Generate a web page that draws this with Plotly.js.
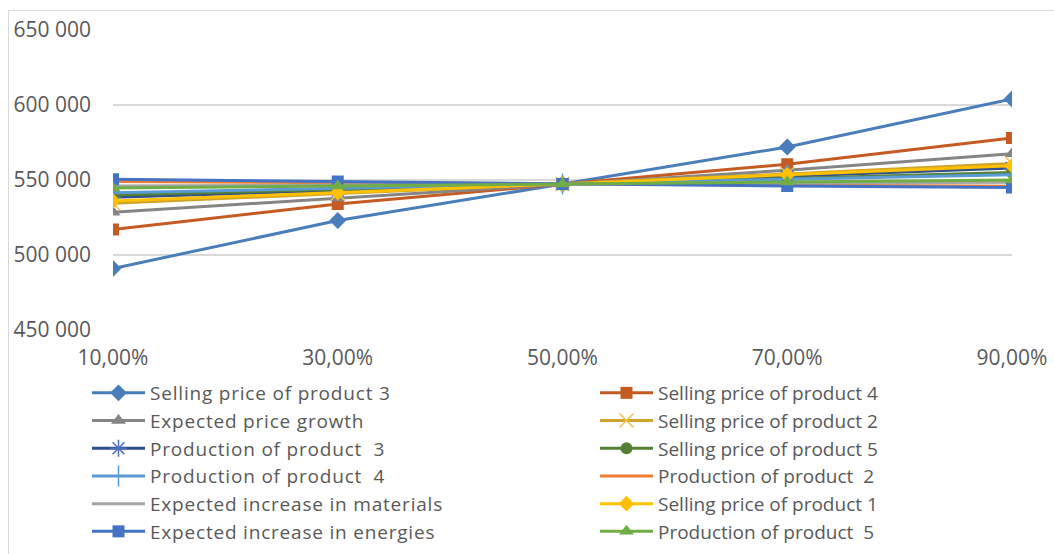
<!DOCTYPE html>
<html>
<head>
<meta charset="utf-8">
<script src="https://cdn.plot.ly/plotly-3.0.1.min.js"></script>
<style>
  html, body { margin: 0; padding: 0; background: #ffffff; overflow: hidden; width: 1054px; height: 554px; }
  #frame { position: absolute; left: 8px; top: 10px; width: 1100px; height: 600px; border: 1px solid #D9D9D9; box-sizing: border-box; z-index: 0; }
  #chart { position: absolute; left: 0; top: 0; width: 1054px; height: 554px; z-index: 1; }
  .legendtext { letter-spacing: 0.8px; }
</style>
</head>
<body>
<div id="frame"></div>
<div id="chart"></div>
<script>
// Categories (shares) on the x axis
const shares = [0.10, 0.30, 0.50, 0.70, 0.90];

// Series names (legend order, row-major in two columns)
const seriesNames = [
  "Selling price of product 3",
  "Selling price of product 4",
  "Expected price growth",
  "Selling price of product 2",
  "Production of product  3",
  "Selling price of product 5",
  "Production of product  4",
  "Production of product  2",
  "Expected increase in materials",
  "Selling price of product 1",
  "Expected increase in energies",
  "Production of product  5"
];

// Series values
const sellingPrice3   = [491000, 523000, 547300, 572000, 604000];
const sellingPrice4   = [517000, 534000, 547300, 560500, 578000];
const expPriceGrowth  = [528500, 538000, 547300, 556500, 567500];
const sellingPrice2   = [534500, 541000, 547300, 554000, 561000];
const production3     = [538500, 543000, 547300, 552500, 558000];
const sellingPrice5   = [540000, 543500, 547300, 551000, 555000];
const production4     = [541500, 544500, 547300, 550500, 553500];
const production2     = [549000, 548200, 547300, 546500, 545800];
const expMaterials    = [546000, 546700, 547300, 547900, 548500];
const sellingPrice1   = [536000, 541500, 547300, 553500, 559500];
const expEnergies     = [550500, 549000, 547300, 546000, 545000];
const production5     = [544700, 546000, 547300, 548600, 550000];

// Y tick values
const yTicks = [450000, 500000, 550000, 600000, 650000];

const values = [sellingPrice3, sellingPrice4, expPriceGrowth, sellingPrice2, production3,
  sellingPrice5, production4, production2, expMaterials, sellingPrice1, expEnergies, production5];

const styles = [
  {color: "#4A7EBB", symbol: "diamond", size: 13},
  {color: "#C55A22", symbol: "square", size: 12},
  {color: "#858585", symbol: "triangle-up", size: 13},
  {color: "#CFA42A", symbol: "x-thin-open", size: 14, mcolor: "#F2C14E"},
  {color: "#2F4E8E", symbol: "asterisk-open", size: 14, mcolor: "#4A6FC0"},
  {color: "#548235", symbol: "circle", size: 12},
  {color: "#5B9BD5", symbol: "cross-thin-open", size: 15},
  {color: "#ED7D31", symbol: null},
  {color: "#A5A5A5", symbol: null},
  {color: "#FFC000", symbol: "diamond", size: 12},
  {color: "#4472C4", symbol: "square", size: 12},
  {color: "#70AD47", symbol: "triangle-up", size: 13}
];

const traces = seriesNames.map((name, i) => {
  const s = styles[i];
  const t = {
    type: "scatter",
    x: shares,
    y: values[i],
    name: name,
    legend: i % 2 === 0 ? "legend" : "legend2",
    mode: s.symbol ? "lines+markers" : "lines",
    line: {color: s.color, width: 3}
  };
  if (s.symbol) {
    const thin = s.symbol.indexOf("thin") >= 0 || s.symbol.indexOf("asterisk") >= 0;
    t.marker = {symbol: s.symbol, size: s.size, color: s.mcolor || s.color,
      line: {color: s.mcolor || s.color, width: thin ? 1.5 : 0}};
  }
  return t;
});

const tickFont = {family: "Open Sans, Liberation Sans, sans-serif", size: 21, color: "#595959"};
const legendFont = {family: "Open Sans, Liberation Sans, sans-serif", size: 19, color: "#595959"};

const legendCommon = {
  orientation: "v",
  xref: "container",
  yref: "container",
  xanchor: "left",
  yanchor: "top",
  y: 1 - 374 / 554,
  font: legendFont,
  traceorder: "normal",
  itemwidth: 53,
  bgcolor: "rgba(0,0,0,0)"
};

const layout = {
  width: 1054,
  height: 554,
  margin: {l: 113, r: 42, t: 30, b: 224, autoexpand: false},
  paper_bgcolor: "rgba(0,0,0,0)",
  plot_bgcolor: "rgba(0,0,0,0)",
  separators: ", ",
  font: legendFont,
  showlegend: true,
  xaxis: {
    range: [0.1, 0.9],
    tickvals: shares,
    tickformat: ".2%",
    tickangle: 0,
    ticklabelstandoff: 13,
    showgrid: false,
    zeroline: false,
    showline: false,
    ticks: "",
    tickfont: tickFont,
    fixedrange: true
  },
  yaxis: {
    range: [450000, 650000],
    tickvals: yTicks,
    tickformat: ",d",
    showgrid: true,
    gridcolor: "#D9D9D9",
    gridwidth: 1.5,
    zeroline: false,
    showline: false,
    ticks: "",
    ticklabelstandoff: 21,
    tickfont: tickFont,
    fixedrange: true
  },
  legend: Object.assign({}, legendCommon, {x: 87 / 1054}),
  legend2: Object.assign({}, legendCommon, {x: 595 / 1054})
};

Plotly.newPlot("chart", traces, layout, {displayModeBar: false, staticPlot: true});
</script>
</body>
</html>
